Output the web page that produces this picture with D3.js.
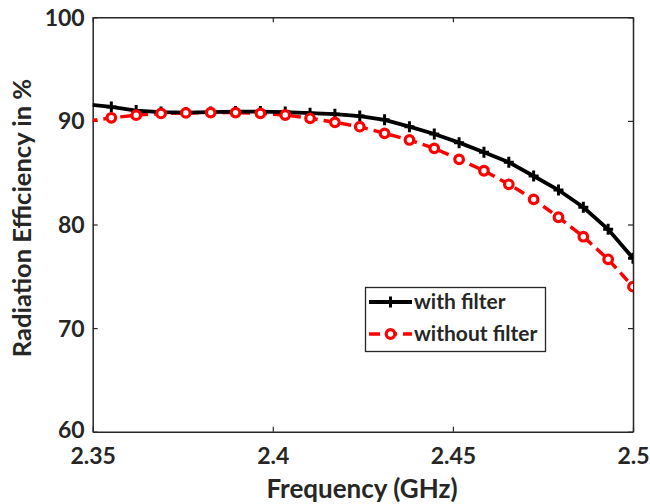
<!DOCTYPE html>
<html><head><meta charset="utf-8">
<script src="https://cdn.jsdelivr.net/npm/d3@7/dist/d3.min.js"></script>
<style>body{margin:0;background:#fff}svg{display:block}text{font-family:Lato,"Open Sans",sans-serif;font-weight:bold;fill:#262626}</style>
</head><body><svg id="c" width="650" height="504"></svg>
<script>
// frequencies: linspace(2.3, 2.5, 30) -> last 23 samples (first one lies just left of the axis)
const freq = [2.34828,2.35517,2.36207,2.36897,2.37586,2.38276,2.38966,2.39655,2.40345,2.41034,2.41724,2.42414,2.43103,2.43793,2.44483,2.45172,2.45862,2.46552,2.47241,2.47931,2.48621,2.49310,2.50000];
const withFilter = [91.6,91.35,91.0,90.85,90.8,90.85,90.9,90.9,90.85,90.75,90.65,90.47,90.1,89.44,88.74,87.9,86.97,86.0,84.68,83.33,81.66,79.54,76.74];
const withoutFilter = [89.95,90.3,90.55,90.72,90.77,90.8,90.8,90.73,90.57,90.25,89.86,89.44,88.8,88.16,87.35,86.29,85.19,83.88,82.43,80.7,78.82,76.64,74.0];
const xTicks = [2.35,2.4,2.45,2.5];
const xTickLabels = ["2.35","2.4","2.45","2.5"];
const yTicks = [60,70,80,90,100];
const seriesNames = ["with filter","without filter"];

const svg = d3.select("#c");
const L=92.7, R=633, T=17.3, B=431.7;
const x = d3.scaleLinear().domain([2.35,2.5]).range([L,R]);
const y = d3.scaleLinear().domain([60,100]).range([B,T]);
const axCol="#262626";

svg.append("clipPath").attr("id","clip").append("rect").attr("x",L).attr("y",T).attr("width",R-L).attr("height",B-T);

// axes
const gx = svg.append("g").attr("transform",`translate(0,${B})`)
  .call(d3.axisBottom(x).tickValues(xTicks).tickFormat((d,i)=>xTickLabels[i]).tickSizeInner(-5).tickSizeOuter(0).tickPadding(16));
const gxt = svg.append("g").attr("transform",`translate(0,${T})`)
  .call(d3.axisTop(x).tickValues(xTicks).tickFormat("").tickSizeInner(-5).tickSizeOuter(0));
const gy = svg.append("g").attr("transform",`translate(${L},0)`)
  .call(d3.axisLeft(y).tickValues(yTicks).tickSizeInner(-5).tickSizeOuter(0).tickPadding(8));
const gyr = svg.append("g").attr("transform",`translate(${R},0)`)
  .call(d3.axisRight(y).tickValues(yTicks).tickFormat("").tickSizeInner(-5).tickSizeOuter(0));
[gx,gxt,gy,gyr].forEach(g=>{
  g.selectAll("path").attr("stroke",axCol).attr("stroke-width",1.5);
  g.selectAll("line").attr("stroke",axCol).attr("stroke-width",1.2);
  g.selectAll("text").style("font-size","23px").attr("fill",axCol).style("font-family","Lato,sans-serif").style("font-weight","bold");
});
gx.selectAll("text").attr("dy","0.71em");
gy.selectAll("text").attr("dy","0.35em");
gy.selectAll(".tick").filter(d=>d===60).select("text").attr("dy","0.25em");

// titles
svg.append("text").attr("x",362).attr("y",498).attr("text-anchor","middle").style("font-size","26px").text("Frequency (GHz)");
svg.append("text").attr("transform",`translate(31,218) rotate(-90)`).attr("text-anchor","middle").style("font-size","25.5px").text("Radiation Efficiency in %");

const plot = svg.append("g").attr("clip-path","url(#clip)");
const line = d3.line().x((d,i)=>x(freq[i])).y(d=>y(d));

// red dashed series
plot.append("path").datum(withoutFilter).attr("d",line).attr("fill","none").attr("stroke","#ff0000").attr("stroke-width",3.5).attr("stroke-dasharray","11,6");
// black series
plot.append("path").datum(withFilter).attr("d",line).attr("fill","none").attr("stroke","#000").attr("stroke-width",3.8);
// black plus markers
const plus = (g,cx,cy)=>{
  g.append("line").attr("x1",cx-5).attr("x2",cx+5).attr("y1",cy).attr("y2",cy).attr("stroke","#000").attr("stroke-width",3);
  g.append("line").attr("x1",cx).attr("x2",cx).attr("y1",cy-5.5).attr("y2",cy+5.5).attr("stroke","#000").attr("stroke-width",3);
};
withFilter.forEach((v,i)=>plus(plot,x(freq[i]),y(v)));
// red circle markers
plot.selectAll("circle.r").data(withoutFilter).enter().append("circle").attr("class","r")
  .attr("cx",(d,i)=>x(freq[i])).attr("cy",d=>y(d)).attr("r",4.3)
  .attr("fill","#fff").attr("stroke","#ff0000").attr("stroke-width",3.2);

// legend
const lg = svg.append("g");
lg.append("rect").attr("x",365.5).attr("y",287.5).attr("width",180).attr("height",64).attr("fill","#fff").attr("stroke",axCol).attr("stroke-width",1.3);
const ly1=302, ly2=334;
lg.append("line").attr("x1",369).attr("x2",412).attr("y1",ly1).attr("y2",ly1).attr("stroke","#000").attr("stroke-width",3.8);
plus(lg,390.5,ly1);
lg.append("line").attr("x1",369).attr("x2",412).attr("y1",ly2).attr("y2",ly2).attr("stroke","#ff0000").attr("stroke-width",3.5).attr("stroke-dasharray","11,6");
lg.append("circle").attr("cx",390.5).attr("cy",ly2).attr("r",4.3).attr("fill","#fff").attr("stroke","#ff0000").attr("stroke-width",3.2);
lg.append("text").attr("x",414).attr("y",ly1).attr("dy","0.35em").style("font-size","21px").text(seriesNames[0]);
lg.append("text").attr("x",414).attr("y",ly2).attr("dy","0.35em").style("font-size","21px").text(seriesNames[1]);
</script></body></html>
